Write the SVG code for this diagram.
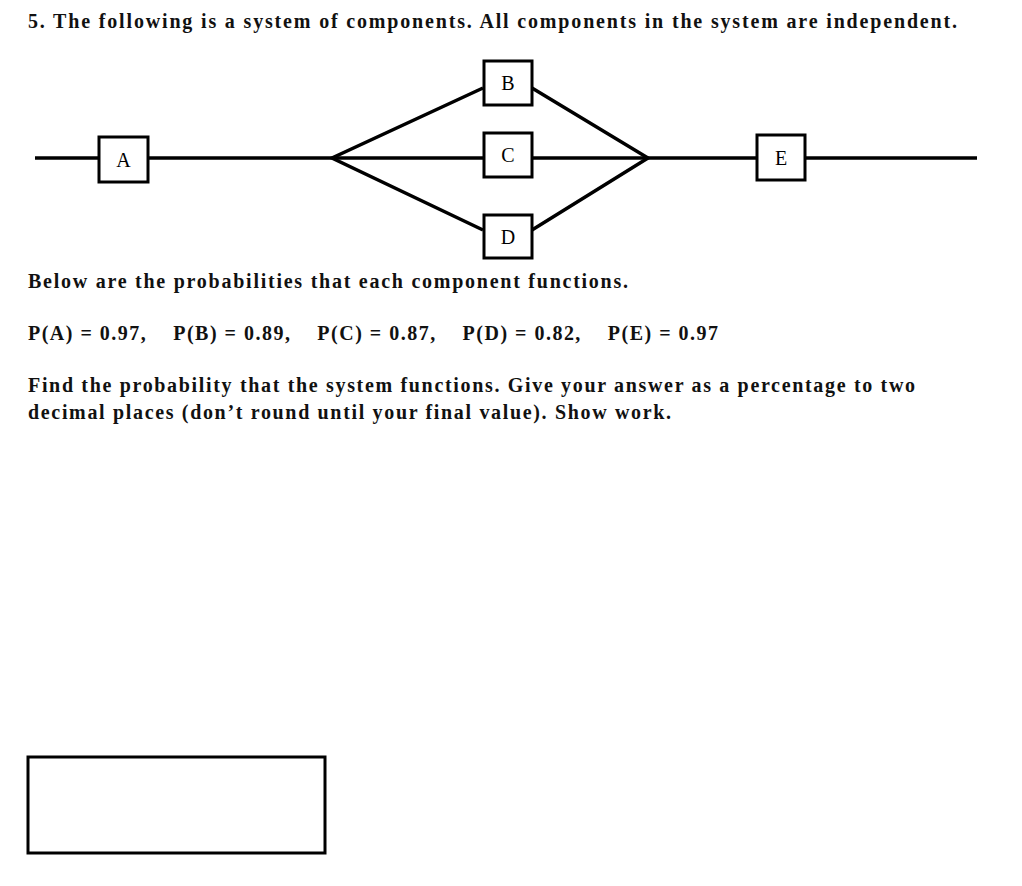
<svg xmlns="http://www.w3.org/2000/svg" width="1022" height="886" viewBox="0 0 1022 886">
<style>
.t{font-family:"Liberation Serif",serif;font-weight:bold;font-size:20px;fill:#111}
.box{fill:#fff;stroke:#000;stroke-width:3}
.lbl{font-family:"Liberation Serif",serif;font-size:20px;text-anchor:middle}
.w{stroke:#000;stroke-width:3.5;fill:none}
</style>
<rect width="1022" height="886" fill="#fff"/>
<text class="t" x="28" y="28" textLength="929">5. The following is a system of components. All components in the system are independent.</text>
<g id="connectors">
<line class="w" x1="35" y1="158" x2="977" y2="158"/>
<polyline class="w" points="483,88 332,158 483,230"/>
<polyline class="w" points="532,88 648,158 532,230"/>
</g>
<g id="A"><rect class="box" x="99" y="137" width="49" height="45"/><text class="lbl" x="123.5" y="167">A</text></g>
<g id="B"><rect class="box" x="484" y="61" width="48" height="44"/><text class="lbl" x="508" y="90">B</text></g>
<g id="C"><rect class="box" x="484" y="133" width="48" height="44"/><text class="lbl" x="508" y="162">C</text></g>
<g id="D"><rect class="box" x="484" y="215" width="48" height="43"/><text class="lbl" x="508" y="244">D</text></g>
<g id="E"><rect class="box" x="757" y="135" width="48" height="45"/><text class="lbl" x="781" y="165">E</text></g>
<text class="t" x="28" y="288" textLength="600">Below are the probabilities that each component functions.</text>
<text class="t" x="28" y="340" textLength="690" xml:space="preserve">P(A) = 0.97,    P(B) = 0.89,    P(C) = 0.87,    P(D) = 0.82,    P(E) = 0.97</text>
<text class="t" x="28" y="392" textLength="887">Find the probability that the system functions. Give your answer as a percentage to two</text>
<text class="t" x="28" y="419" textLength="643">decimal places (don’t round until your final value). Show work.</text>
<rect x="28" y="757" width="297" height="96" fill="none" stroke="#000" stroke-width="3"/>
</svg>
